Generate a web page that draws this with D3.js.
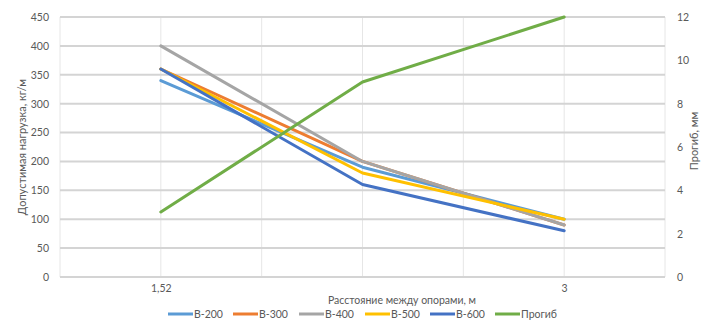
<!DOCTYPE html>
<html>
<head>
<meta charset="utf-8">
<script src="https://cdn.jsdelivr.net/npm/d3@7"></script>
<style>
  body { margin: 0; background: #fff; }
  svg text { font-family: Lato, "Open Sans", sans-serif; fill: #595959; }
</style>
</head>
<body>
<svg id="chart" width="708" height="324"></svg>
<script>
// ---- data ----
const categories = ["1,52", "", "3"];
const seriesNames = ["В-200", "В-300", "В-400", "В-500", "В-600"];
const b200 = [340, 190, 100];
const b300 = [360, 200, 90];
const b400 = [400, 200, 90];
const b500 = [360, 180, 100];
const b600 = [360, 160, 80];
const progib = [3, 9, 12];
const leftTicks = [0, 50, 100, 150, 200, 250, 300, 350, 400, 450];
const rightTicks = [0, 2, 4, 6, 8, 10, 12];
const colors = ["#5B9BD5", "#ED7D31", "#A5A5A5", "#FFC000", "#4472C4"];
const progibColor = "#70AD47";

const svg = d3.select("#chart");
const L = 60, R = 665, T = 17, B = 277;

const x = d3.scaleLinear().domain([-0.5, categories.length - 0.5]).range([L, R]);
const yL = d3.scaleLinear().domain([0, 450]).range([B, T]);
const yR = d3.scaleLinear().domain([0, 12]).range([B, T]);

// vertical gridlines
const vgrid = d3.range(-0.5, categories.length - 0.5 + 0.01, 0.5);
svg.append("g").selectAll("line").data(vgrid).join("line")
  .attr("x1", d => x(d)).attr("x2", d => x(d))
  .attr("y1", T).attr("y2", B)
  .attr("stroke", "#e6e6e6").attr("stroke-width", 1);

// horizontal gridlines
svg.append("g").selectAll("line").data(leftTicks).join("line")
  .attr("x1", L).attr("x2", R)
  .attr("y1", d => yL(d)).attr("y2", d => yL(d))
  .attr("stroke", "#d4d4d4").attr("stroke-width", 2);

// left axis labels
const gl = svg.append("g").attr("transform", `translate(${L - 11},0)`)
  .call(d3.axisLeft(yL).tickValues(leftTicks).tickSize(0).tickPadding(0));
gl.select(".domain").remove();
gl.selectAll("text").attr("font-size", 10.5).attr("font-family", "Lato").attr("fill", "#595959");

// right axis labels
const gr = svg.append("g").attr("transform", `translate(${R + 12},0)`)
  .call(d3.axisRight(yR).tickValues(rightTicks).tickSize(0).tickPadding(0));
gr.select(".domain").remove();
gr.selectAll("text").attr("font-size", 10.5).attr("font-family", "Lato").attr("fill", "#595959");

// x axis labels
const gx = svg.append("g").attr("transform", `translate(0,${B + 8})`)
  .call(d3.axisBottom(x).tickValues(d3.range(categories.length)).tickFormat(i => categories[i]).tickSize(0).tickPadding(0));
gx.select(".domain").remove();
gx.selectAll("text").attr("font-size", 10.5).attr("font-family", "Lato").attr("fill", "#595959");

// lines
const allSeries = [b200, b300, b400, b500, b600];
const lineL = d3.line().x((d, i) => x(i)).y(d => yL(d));
allSeries.forEach((s, k) => {
  svg.append("path").datum(s).attr("d", lineL)
    .attr("fill", "none").attr("stroke", colors[k]).attr("stroke-width", 3)
    .attr("stroke-linejoin", "round").attr("stroke-linecap", "round");
});
const lineR = d3.line().x((d, i) => x(i)).y(d => yR(d));
svg.append("path").datum(progib).attr("d", lineR)
  .attr("fill", "none").attr("stroke", progibColor).attr("stroke-width", 3)
  .attr("stroke-linejoin", "round").attr("stroke-linecap", "round");

// axis titles
svg.append("text").attr("x", 402).attr("y", 304).attr("text-anchor", "middle")
  .attr("font-size", 10.5).text("Расстояние между опорами, м");
svg.append("text").attr("transform", `translate(26,${(T + B) / 2}) rotate(-90)`)
  .attr("text-anchor", "middle").attr("font-size", 11).text("Допустимая нагрузка, кг/м");
svg.append("text").attr("transform", `translate(698,${(T + B) / 2 - 6}) rotate(-90)`)
  .attr("text-anchor", "middle").attr("font-size", 11).text("Прогиб, мм");

// legend
const legendNames = seriesNames.concat(["Прогиб"]);
const legendColors = colors.concat([progibColor]);
const legendX = [168, 233, 299, 365, 430, 495];
const lg = svg.append("g");
legendNames.forEach((n, i) => {
  lg.append("line").attr("x1", legendX[i]).attr("x2", legendX[i] + 25)
    .attr("y1", 314).attr("y2", 314)
    .attr("stroke", legendColors[i]).attr("stroke-width", 3);
  lg.append("text").attr("x", legendX[i] + 26).attr("y", 318)
    .attr("font-size", 10.5).text(n);
});
</script>
</body>
</html>
